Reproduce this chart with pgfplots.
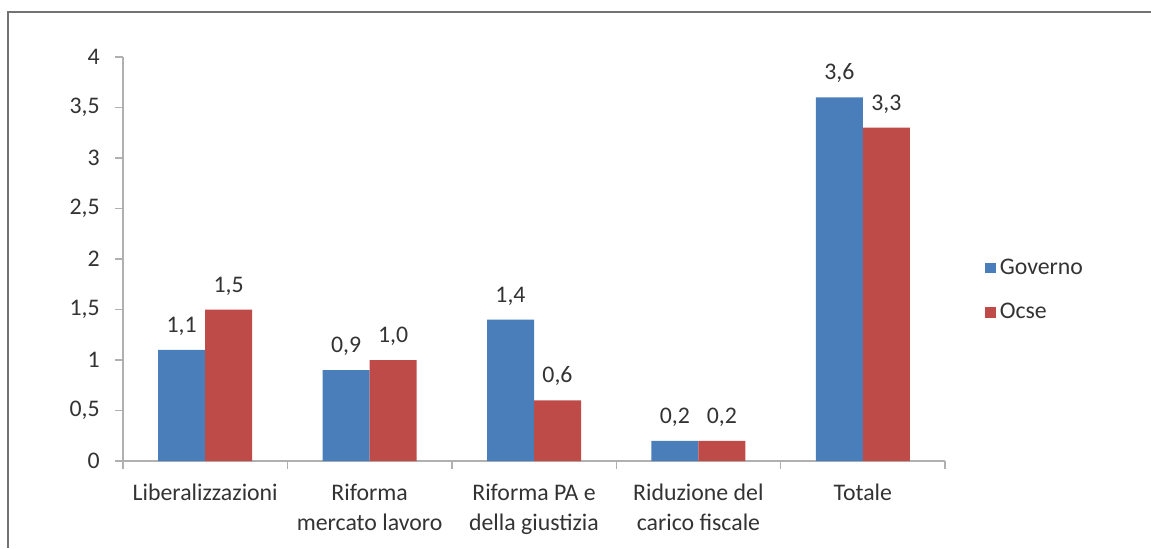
\documentclass[border=0pt]{standalone}
\usepackage{pgfplots}
\pgfplotsset{compat=1.18}
\usepackage{fontspec}
\setmainfont{Carlito}
\definecolor{gov}{HTML}{4A7EBB}
\definecolor{ocse}{HTML}{BE4B48}
\definecolor{txt}{HTML}{333333}
\definecolor{axc}{HTML}{B0B0B0}
\begin{document}
\begin{tikzpicture}
\path[use as bounding box] (0,0) rectangle (575.5pt,-274pt);
\draw[color=gray!90!black, line width=0.8pt] (4pt,-274pt) -- (4pt,-6pt) -- (575.5pt,-6pt);
\begin{axis}[
  at={(61.5pt,-230.5pt)}, anchor=south west,
  scale only axis, width=411pt, height=202pt,
  ybar=0pt, bar width=23.5pt,
  xmin=-0.5, xmax=4.5, ymin=0, ymax=4,
  axis x line*=bottom, axis y line*=left,
  axis line style={axc, line width=0.7pt},
  every tick/.style={axc, line width=0.7pt},
  tick align=outside,
  xtick={0,1,2,3,4},
  major x tick style={draw=none},
  minor xtick={-0.5,0.5,1.5,2.5,3.5,4.5},
  minor tick length=4pt,
  major tick length=4pt,
  xticklabels={Liberalizzazioni, {Riforma\\mercato lavoro}, {Riforma PA e\\della giustizia}, {Riduzione del\\carico fiscale}, Totale},
  xticklabel style={align=center, font=\fontsize{11.9}{15}\selectfont, text=txt, inner sep=0pt, yshift=-7.5pt},
  ytick={0,0.5,...,4},
  yticklabel style={font=\fontsize{11.9}{13}\selectfont, text=txt, inner sep=0pt, xshift=-7.5pt,
    /pgf/number format/.cd, use comma, assume math mode=true},
  nodes near coords,
  every node near coord/.append style={font=\fontsize{11.9}{13}\selectfont, text=txt, inner sep=0pt, yshift=7pt,
    /pgf/number format/.cd, fixed, fixed zerofill, precision=1, use comma, assume math mode=true},
  legend style={at={(1.0487,0.423)}, anchor=west, draw=none, fill=none, inner sep=0pt,
    row sep=9pt, font=\fontsize{11.9}{13}\selectfont, text=txt},
  legend cell align=left,
  legend image code/.code={\fill[#1] (0pt,-2.6pt) rectangle (5.2pt,2.6pt);},
]
\addplot[fill=gov, draw=none] coordinates {(0,1.1) (1,0.9) (2,1.4) (3,0.2) (4,3.6)};
\addplot[fill=ocse, draw=none] coordinates {(0,1.5) (1,1.0) (2,0.6) (3,0.2) (4,3.3)};
\legend{Governo, Ocse}
\end{axis}
\end{tikzpicture}
\end{document}
